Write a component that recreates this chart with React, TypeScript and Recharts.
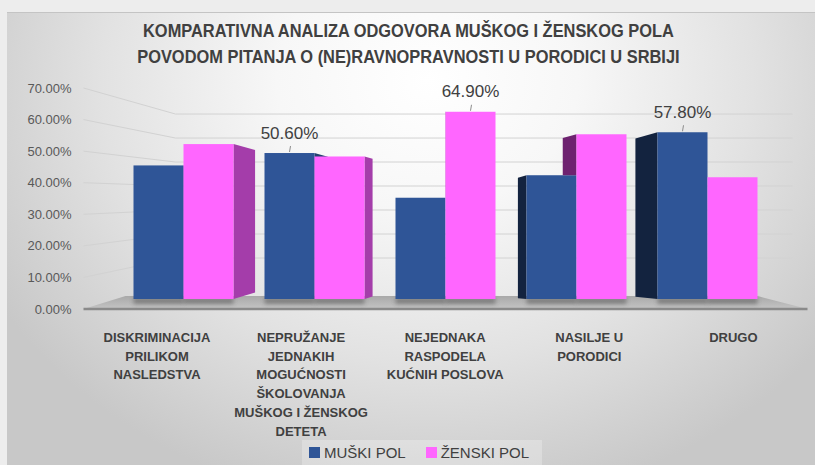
import { ComposedChart, Bar, Line, XAxis, YAxis, CartesianGrid, LabelList } from 'recharts';

// values (each category sums to 100%)
const categories = [
  'DISKRIMINACIJA\nPRILIKOM\nNASLEDSTVA',
  'NEPRUŽANJE\nJEDNAKIH\nMOGUĆNOSTI\nŠKOLOVANJA\nMUŠKOG I ŽENSKOG\nDETETA',
  'NEJEDNAKA\nRASPODELA\nKUĆNIH POSLOVA',
  'NASILJE U\nPORODICI',
  'DRUGO',
];
const muskiPol = [46.3, 50.6, 35.1, 42.9, 57.8];
const zenskiPol = [53.7, 49.4, 64.9, 57.1, 42.2];
// only these bars carry a data label in the original
const muskiLabeled = [false, true, false, false, true];
const zenskiLabeled = [false, false, true, false, false];
const yTicks = [0, 10, 20, 30, 40, 50, 60, 70];
const seriesNames = ['MUŠKI POL', 'ŽENSKI POL'];
const seriesColors = ['#2F5597', '#FF66FF'];

const data = categories.map((name, i) => ({
  name,
  muski: muskiPol[i],
  zenski: zenskiPol[i],
}));

// fake 3D: the bars stand on a floor, so their axis is shifted/scaled vs. the printed one
const BAR_AXIS = [-3.47, 73.14];
const VP_X = 443; // horizontal vanishing point
const DEPTH = 0.103;
const FONT = '"Liberation Sans", Arial, sans-serif';

function Bar3D(props: any) {
  const { x, y, width, height, fill, payload, series } = props;
  if (!height) return null;
  const base = y + height;
  const x2 = x + width;
  const faceDark = series === 'muski' ? ['#24406f', '#13233f'] : ['#a43daa', '#6e2270'];
  const faces: any[] = [];

  if (x2 < VP_X) {
    const w = DEPTH * (VP_X - x2);
    faces.push(
      <polygon
        key="r"
        points={`${x2},${y} ${x2 + w},${y + 0.28 * w} ${x2 + w},${base - 0.3 * w} ${x2},${base}`}
        fill={faceDark[0]}
      />
    );
  } else if (x > VP_X) {
    const w = DEPTH * (x - VP_X);
    let bottom = base;
    if (series === 'zenski') {
      // hidden behind the blue bar of the same cluster, only the top pokes out
      const ppu = height / payload.zenski;
      bottom = base - payload.muski * ppu;
    }
    if (bottom > y + 0.5) {
      const bShift = bottom === base ? 0.1 * w : 0;
      faces.push(
        <polygon
          key="l"
          points={`${x},${y} ${x - w},${y + 0.28 * w} ${x - w},${bottom - bShift} ${x},${bottom}`}
          fill={faceDark[1]}
        />
      );
    }
  }

  return (
    <g>
      <rect x={x} y={base - 1} width={width} height={6} fill="#3a3a3a" opacity={0.45} filter="url(#floorBlur)" />
      {faces}
      <rect x={x} y={y} width={width} height={height} fill={fill} />
    </g>
  );
}

function GridLine(props: any) {
  const { x1, x2, y1, y, height } = props;
  const bottom = y + height;
  if (Math.abs(y1 - bottom) < 0.5) {
    // the floor slab
    return (
      <g>
        <defs>
          <linearGradient id="floorFill" x1="0" y1="0" x2="0" y2="1">
            <stop offset="0%" stopColor="#a9a9a9" />
            <stop offset="100%" stopColor="#c4c4c4" />
          </linearGradient>
          <filter id="floorBlur" x="-20%" y="-100%" width="140%" height="300%">
            <feGaussianBlur stdDeviation="2" />
          </filter>
        </defs>
        <polygon
          points={`${x1 - 34},${bottom} ${x1 + 8},${bottom - 13} ${x2 - 15},${bottom - 13} ${x2 + 35},${bottom}`}
          fill="url(#floorFill)"
        />
        <line x1={x1 - 34} y1={bottom} x2={x2 + 35} y2={bottom} stroke="#8a8a8a" strokeWidth={2.5} />
      </g>
    );
  }
  const yBack = bottom - 27 - 0.76 * (bottom - y1);
  return (
    <polyline
      points={`${x1 - 34},${y1} ${x1 + 58},${yBack} ${x2 + 20},${yBack}`}
      fill="none"
      stroke="#d2d2d2"
      strokeWidth={1}
    />
  );
}

function CategoryTick(props: any) {
  const { x, y, payload } = props;
  const lines = String(payload.value).split('\n');
  const cx = VP_X + (x - VP_X) * 1.1;
  return (
    <text x={cx} y={y + 25} textAnchor="middle" fontFamily={FONT} fontWeight="bold" fontSize={13} fill="#404040">
      {lines.map((l, i) => (
        <tspan key={i} x={cx} dy={i === 0 ? 0 : 18.7}>
          {l}
        </tspan>
      ))}
    </text>
  );
}

function makeLabel(flags: boolean[]) {
  return (p: any) => {
    if (!flags[p.index]) return null;
    const cx = p.x + p.width / 2;
    return (
      <g>
        <line x1={cx + 1} y1={p.y - 7} x2={cx} y2={p.y - 1} stroke="#8c8c8c" strokeWidth={1} />
        <text x={cx} y={p.y - 20} textAnchor="middle" dominantBaseline="central" fontFamily={FONT} fontSize={17} fill="#404040">
          {`${Number(p.value).toFixed(2)}%`}
        </text>
      </g>
    );
  };
}

export default function App() {
  return (
    <div style={{ position: 'relative', width: 815, height: 465, background: '#ededed', overflow: 'hidden' }}>
      <style>{'body{margin:0}'}</style>
      <div
        style={{
          position: 'absolute',
          left: 7,
          top: 12,
          width: 808,
          height: 453,
          borderTop: '1px solid #c4c4c4',
          background:
            'radial-gradient(ellipse 62% 95% at 52% 15%, #ffffff 0%, #f7f7f7 30%, #e2e2e2 65%, #c8c8c8 100%)',
        }}
      />
      <div
        style={{
          position: 'absolute',
          left: 0,
          width: 815,
          top: 18,
          textAlign: 'center',
          fontFamily: FONT,
          fontWeight: 'bold',
          fontSize: 19,
          lineHeight: '26px',
          color: '#404040',
          transform: 'translateX(1px) scaleX(0.863)',
          transformOrigin: '407px 0',
        }}
      >
        <div>KOMPARATIVNA ANALIZA ODGOVORA MUŠKOG I ŽENSKOG POLA</div>
        <div>POVODOM PITANJA O (NE)RAVNOPRAVNOSTI U PORODICI U SRBIJI</div>
      </div>
      <div style={{ position: 'absolute', left: 0, top: 0 }}>
        <ComposedChart
          width={815}
          height={465}
          data={data}
          barSize={50}
          barGap={0}
          margin={{ top: 88, right: 42.5, bottom: 26, left: 20 }}
        >
          <CartesianGrid yAxisId="vis" vertical={false} horizontal={(p: any) => <GridLine {...p} />} />
          <XAxis dataKey="name" height={130} tickLine={false} axisLine={false} interval={0} tick={<CategoryTick />} />
          <YAxis yAxisId="bar" hide width={0} domain={BAR_AXIS} allowDataOverflow type="number" />
          <YAxis
            yAxisId="vis"
            width={97.5}
            domain={[0, 70]}
            ticks={yTicks}
            allowDataOverflow
            type="number"
            tickLine={false}
            axisLine={false}
            tickSize={0}
            tickMargin={46}
            tickFormatter={(v: number) => `${v.toFixed(2)}%`}
            tick={{ fill: '#595959', fontSize: 13, fontFamily: FONT }}
          />
          <Bar
            yAxisId="bar"
            dataKey="muski"
            name={seriesNames[0]}
            fill={seriesColors[0]}
            isAnimationActive={false}
            shape={(p: any) => <Bar3D {...p} series="muski" />}
          >
            <LabelList dataKey="muski" content={makeLabel(muskiLabeled)} />
          </Bar>
          <Bar
            yAxisId="bar"
            dataKey="zenski"
            name={seriesNames[1]}
            fill={seriesColors[1]}
            isAnimationActive={false}
            shape={(p: any) => <Bar3D {...p} series="zenski" />}
          >
            <LabelList dataKey="zenski" content={makeLabel(zenskiLabeled)} />
          </Bar>
          {/* invisible series so the printed percentage axis has something attached */}
          <Line
            yAxisId="vis"
            dataKey="muski"
            stroke="none"
            dot={false}
            activeDot={false}
            legendType="none"
            isAnimationActive={false}
          />
        </ComposedChart>
      </div>
      <div
        style={{
          position: 'absolute',
          left: 302,
          top: 440,
          width: 240,
          height: 25,
          background: 'rgba(255,255,255,0.25)',
          display: 'flex',
          alignItems: 'center',
          fontFamily: FONT,
          fontSize: 15,
          color: '#404040',
        }}
      >
        {seriesNames.map((n, i) => (
          <div key={n} style={{ display: 'flex', alignItems: 'center', marginLeft: i === 0 ? 7 : 20 }}>
            <span style={{ width: 11, height: 11, background: seriesColors[i], marginRight: 4 }} />
            <span>{n}</span>
          </div>
        ))}
      </div>
    </div>
  );
}
